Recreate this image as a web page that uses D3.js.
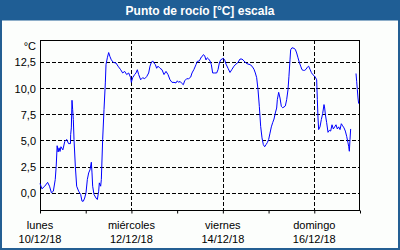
<!DOCTYPE html>
<html>
<head>
<meta charset="utf-8">
<script src="https://cdn.jsdelivr.net/npm/d3@7"></script>
<style>
  body { margin: 0; background: #fff; }
  svg { display: block; }
</style>
</head>
<body>
<svg id="chart" width="400" height="250"></svg>
<script>
// hours since lunes 10/12/18 00:00
const hours = [
  0, 1, 2.5, 4, 5, 6, 7, 8, 8.5, 9, 9.5, 10, 10.5, 11, 12, 13, 14, 15, 16, 16.1, 16.45, 16.8, 17.15, 17.5, 17.85,
  18.55, 19.25, 20.3, 21.35, 22.05, 22.75, 23.45, 24.15, 24.85, 25.55, 26.25, 26.95, 27.3, 27.65, 28.35, 29.4,
  30.1, 30.8, 31.15, 31.85, 32.2, 32.9, 33.6, 34.3, 34.65, 35.35, 36.05, 36.75, 37.45, 38.5, 39.9, 40.95,
  42.35, 43.4, 44.45, 45.5, 46.55, 47.6, 47.95, 48.65, 49.7, 50.4, 51.1, 51.8, 52.85, 53.9, 54.95, 56,
  57.05, 57.75, 58.45, 59.15, 59.85, 60.55, 61.25, 61.95, 63, 64.05, 65.1, 66.15, 67.2, 68.25, 69.3, 70.35,
  71.4, 72.1, 72.8, 73.5, 74.2, 75.25, 75.95, 77, 78.05, 79.1, 79.8, 80.85, 81.9, 82.6, 83.65, 84.7,
  85.05, 85.75, 86.45, 87.15, 87.85, 88.55, 89.25, 89.95, 90.65, 91.7, 92.75, 93.45, 94.15, 94.85, 95.55,
  96.25, 96.95, 97.65, 98.7, 99.75, 100.8, 101.85, 102.9, 103.95, 105, 106.05, 107.1, 108.15, 109.2,
  110.25, 111.3, 112.35, 113.05, 113.75, 114.45, 115.15, 115.85, 116.55, 117.25, 117.95, 118.65, 119.35,
  120.05, 120.75, 121.45, 122.15, 122.85, 123.55, 124.25, 124.6, 125.3, 126, 126.7, 127.4, 128.1, 128.8,
  129.5, 130.2, 130.7, 131.25, 131.6, 132.3, 133.35, 134.05, 134.75, 135.45, 136.15, 136.85, 137.55,
  138.25, 138.95, 139.65, 140.35, 141.05, 141.75, 142.45, 143.15, 143.85, 144.55, 145.25, 145.6, 145.95,
  146.3, 147, 147.7, 148.4, 149.1, 149.45, 149.8, 150.5, 151.2, 151.9, 152.6, 153.3, 154, 154.7, 155.4,
  156.1, 156.8, 157.5, 158.2, 158.9, 159.6, 160.3, 161, 161.7, 162.05, 162.4, 162.75, 163.1, 164.5,
  165.9, 166.25, 166.6, 166.95, 167.3
];
// dew point, °C (null = no data)
const dewPoint = [
  0.89, 0.38, 0.63, 1.0, 0.63, 0, 0.15, 1.27, 2.54, 4.5, 3.9, 4.3, 3.95, 4.4, 4.1, 4.9, 5.1, 4.7, 4.7, 5.56, 6.2, 8.84, 7.95, 7.0, 5.1,
  2.54, 0.63, 0.15, -0.16, -0.8, -0.8, -0.5, 0, 1.27, 1.9, 2.2, 2.92, 1.9, 0.63, -0.16, -0.5,
  -0.64, 0.15, 0.95, 0.63, 1.27, 5.1, 7.95, 10.5, 12.25, 12.9, 13.4, 13.0, 12.7, 12.46, 12.4, 12.1,
  11.76, 11.45, 11.6, 11.3, 11.45, 11.0, 10.55, 11.0, 11.3, 11.45, 11.76, 11.3, 10.8, 11.0, 10.9, 11.1,
  11.45, 12.1, 12.46, 12.6, 12.4, 12.25, 11.9, 12.1, 11.9, 11.76, 11.3, 11.6, 11.3, 10.8, 10.55, 10.55,
  10.5, 10.7, 10.55, 10.65, 10.5, 10.33, 10.7, 10.9, 10.9, 11.05, 11.45, 11.8, 12.25, 12.56, 12.6, 12.97,
  13.0, 13.2, 13.1, 12.7, 12.9, 12.78, 12.6, 12.25, 11.45, 11.45, 11.45, 11.76, 12.4, 12.7, 12.78,
  12.85, 12.7, 12.3, 11.9, 11.5, 11.8, 12.1, 12.3, 12.46, 12.78, 12.78, 12.6, 12.4, 12.3,
  12.25, 12.1, 11.8, 11.45, 11.0, 9.86, 8.26, 6.35, 5.25, 4.6, 4.4, 4.6, 4.8,
  5.1, 5.7, 6.3, 6.7, 7.05, 7.63, 8.1, 8.9, 9.6, 9.06, 8.26, 8.13, 8.2, 8.3,
  8.9, 9.86, 11.13, 12.7, 13.67, 13.86, 13.8, 13.7, 13.36, 12.9, 12.46, 12.1, 11.76,
  11.7, 11.7, 11.8, 12.0, 12.1, 11.8, 11.5, 11.3, 11.2, 11.05, 10.8, 8.9, 7.15,
  6.04, 6.3, 7.0, 7.57, 8.43, 8.1, 7.5, 6.7, 5.78, 5.97, 5.9, 6.5, 6.1, 6.3, 6.5,
  6.1, 6.3, 6.04, 6.6, 6.4, 6.2, 5.9, 5.4, 4.77, 4.45, 3.97, 5.1, 6.1, null,
  11.4, 10.65, 9.86, 9.06, 8.52
];

const yTicks = [0, 2.5, 5, 7.5, 10, 12.5];
const dayNames = ["lunes", "miércoles", "viernes", "domingo"];
const dayDates = ["10/12/18", "12/12/18", "14/12/18", "16/12/18"];
const startDate = new Date(2018, 11, 10);
const endDate = new Date(2018, 11, 17);

const svg = d3.select("#chart");
const W = 400, H = 250;
const box = { left: 40, right: 360, top: 40, bottom: 210.5 };
const frameColor = "#245f93";

// background + frame
svg.append("rect").attr("width", W).attr("height", H).attr("fill", "#fcfefc");
svg.append("rect")
  .attr("x", 1).attr("y", 1).attr("width", W - 2).attr("height", H - 2)
  .attr("fill", "none").attr("stroke", frameColor).attr("stroke-width", 2);
svg.append("rect").attr("width", W).attr("height", 20.5).attr("fill", "#1f5e95");
svg.append("text")
  .attr("x", W / 2).attr("y", 14.5)
  .attr("text-anchor", "middle")
  .attr("font-family", "Liberation Sans, Arial, sans-serif")
  .attr("font-weight", "bold").attr("font-size", 12)
  .attr("fill", "#fff")
  .text("Punto de rocío [°C] escala");

// scales
const toDate = (h) => new Date(startDate.getTime() + h * 3600 * 1000);
const x = d3.scaleTime().domain([startDate, endDate]).range([box.left, box.right]);
const y = d3.scaleLinear().domain([-1.69, 14.6]).range([box.bottom, box.top]);

const comma = d3.formatLocale({ decimal: ",", thousands: ".", grouping: [3], currency: ["", "€"] }).format(".1f");
const font = "Liberation Sans, Arial, sans-serif";

// horizontal grid
svg.append("g")
  .selectAll("line")
  .data(yTicks)
  .join("line")
  .attr("x1", box.left).attr("x2", box.right)
  .attr("y1", (d) => Math.round(y(d)) + 0.5).attr("y2", (d) => Math.round(y(d)) + 0.5)
  .attr("stroke", "#000").attr("stroke-dasharray", "4,2");

// vertical grid at every other day
const majorDays = d3.timeDay.range(startDate, endDate, 2);
svg.append("g")
  .selectAll("line")
  .data(majorDays.slice(1))
  .join("line")
  .attr("x1", (d) => Math.round(x(d)) + 0.5).attr("x2", (d) => Math.round(x(d)) + 0.5)
  .attr("y1", box.top).attr("y2", box.bottom)
  .attr("stroke", "#000").attr("stroke-dasharray", "4,2");

// y labels
svg.append("g")
  .selectAll("text")
  .data(yTicks)
  .join("text")
  .attr("x", 36).attr("y", (d) => y(d) + 4.5)
  .attr("text-anchor", "end")
  .attr("font-family", font).attr("font-size", 11)
  .attr("fill", "#000")
  .text((d) => comma(d));
svg.append("text")
  .attr("x", 36).attr("y", 50)
  .attr("text-anchor", "end")
  .attr("font-family", font).attr("font-size", 11)
  .text("°C");

// x axis ticks (daily) with labels every other day
const xAxis = d3.axisBottom(x)
  .tickValues(d3.timeDay.range(startDate, d3.timeDay.offset(endDate, 1), 1))
  .tickSize(3)
  .tickFormat("");
svg.append("g")
  .attr("transform", `translate(0,${Math.round(box.bottom) - 0.5})`)
  .call(xAxis)
  .call((g) => g.select(".domain").remove())
  .call((g) => g.selectAll(".tick line").attr("stroke", "#000"));

const labels = svg.append("g")
  .attr("font-family", font).attr("font-size", 11)
  .attr("text-anchor", "middle").attr("fill", "#000");
labels.selectAll("text.day")
  .data(majorDays)
  .join("text")
  .attr("class", "day")
  .attr("x", (d) => x(d)).attr("y", 229)
  .text((d, i) => dayNames[i]);
labels.selectAll("text.date")
  .data(majorDays)
  .join("text")
  .attr("class", "date")
  .attr("x", (d) => x(d)).attr("y", 243)
  .text((d, i) => dayDates[i]);

// plot frame
svg.append("rect")
  .attr("x", box.left + 0.5).attr("y", box.top + 0.5)
  .attr("width", box.right - box.left - 1).attr("height", Math.round(box.bottom) - box.top - 1)
  .attr("fill", "none").attr("stroke", "#000");

// data line
const data = hours.map((h, i) => ({ t: toDate(h), v: dewPoint[i] }));
const line = d3.line()
  .defined((d) => d.v !== null)
  .x((d) => x(d.t))
  .y((d) => y(d.v));
svg.append("path")
  .datum(data)
  .attr("d", line)
  .attr("fill", "none")
  .attr("stroke", "#0000ff")
  .attr("stroke-width", 1);
</script>
</body>
</html>
